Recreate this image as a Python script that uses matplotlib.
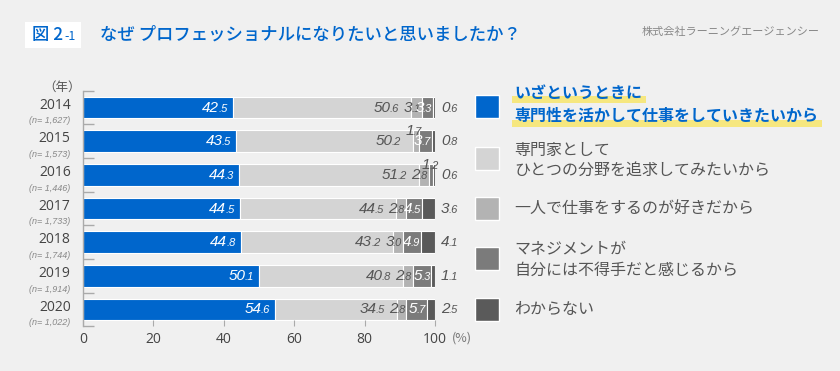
import matplotlib.pyplot as plt
from matplotlib.patches import Rectangle

plt.rcParams['font.family'] = ['Noto Sans CJK JP', 'DejaVu Sans']

years = ['2014', '2015', '2016', '2017', '2018', '2019', '2020']
n_labels = ['(n=1,627)', '(n=1,573)', '(n=1,446)', '(n=1,733)', '(n=1,744)', '(n=1,914)', '(n=1,022)']
expert_use = [42.5, 43.5, 44.3, 44.5, 44.8, 50.1, 54.6]
specialist = [50.6, 50.2, 51.2, 44.5, 43.2, 40.8, 34.5]
alone = [3.1, 1.7, 2.8, 2.8, 3.0, 2.8, 2.8]
management = [3.3, 3.7, 1.2, 4.5, 4.9, 5.3, 5.7]
unknown = [0.6, 0.8, 0.6, 3.6, 4.1, 1.1, 2.5]

legend_labels = [
    'いざというときに\n専門性を活かして仕事をしていきたいから',
    '専門家として\nひとつの分野を追求してみたいから',
    '一人で仕事をするのが好きだから',
    'マネジメントが\n自分には不得手だと感じるから',
    'わからない',
]
colors = ['#0066cc', '#d4d4d4', '#b3b3b3', '#7b7b7b', '#5a5a5a']
bg = '#f0f0f0'
numfont = 'Liberation Sans'

W, H = 840, 371
fig = plt.figure(figsize=(W / 100, H / 100), dpi=100, facecolor=bg)


def fx(px):
    return px / W


def fy(py):
    return 1 - py / H


ax = fig.add_axes([fx(83), fy(326.3), fx(352), (326.3 - 90.7) / H])
ax.set_facecolor(bg)

series = [expert_use, specialist, alone, management, unknown]
ypos = list(range(len(years)))
left = [0] * len(years)
for vals, c in zip(series, colors):
    ax.barh(ypos, vals, left=left, height=0.64, color=c, edgecolor='white', linewidth=0.8)
    left = [a + b for a, b in zip(left, vals)]

ax.set_xlim(0, 100)
ax.set_ylim(6.5, -0.5)
for s in ['top', 'right', 'bottom']:
    ax.spines[s].set_visible(False)
ax.spines['left'].set_color('#aaaaaa')
ax.spines['left'].set_linewidth(1)
ax.set_xticks([0, 20, 40, 60, 80, 100])
ax.tick_params(axis='x', direction='in', length=4, color='#aaaaaa', labelsize=10,
               labelcolor='#444444', pad=4)
ax.set_yticks([])
ax.set_yticks([i - 0.5 for i in range(len(years) + 1)], minor=True)
ax.tick_params(axis='y', which='minor', direction='in', length=8, color='#aaaaaa', width=1)
for lab in ax.get_xticklabels():
    lab.set_family('Open Sans')

fig.canvas.draw()
renderer = fig.canvas.get_renderer()


def value_label(x, y, v, color, ha_end, pad_px, dy=0):
    ip, dp = f'{v:.1f}'.split('.')
    kw = dict(textcoords='offset pixels', va='center', style='italic', color=color,
              family=numfont, annotation_clip=False)
    if ha_end == 'right':
        t2 = ax.annotate('.' + dp, (x, y), xytext=(-pad_px, dy - 1), ha='right',
                         fontsize=8, **kw)
        w = t2.get_window_extent(renderer).width
        ax.annotate(ip, (x, y), xytext=(-pad_px - w + 1, dy), ha='right', fontsize=11, **kw)
    else:
        t1 = ax.annotate(ip, (x, y), xytext=(pad_px, dy), ha='left', fontsize=11, **kw)
        w = t1.get_window_extent(renderer).width
        ax.annotate('.' + dp, (x, y), xytext=(pad_px + w - 1, dy - 1), ha='left',
                    fontsize=8, **kw)


for i in range(len(years)):
    e1 = expert_use[i]
    e2 = e1 + specialist[i]
    e3 = e2 + alone[i]
    e4 = e3 + management[i]
    value_label(e1, i, expert_use[i], 'white', 'right', 5)
    value_label(e2, i, specialist[i], '#555555', 'right', 12)
    if alone[i] < 2:
        value_label(e3 + 1.0, i, alone[i], '#555555', 'right', 0, dy=10)
    else:
        value_label(e3, i, alone[i], '#555555', 'right', 1)
    if management[i] < 2:
        value_label(e4 + 1.5, i, management[i], '#555555', 'right', 0, dy=10)
    else:
        value_label(e4, i, management[i], 'white', 'right', 1)
    value_label(100, i, unknown[i], '#555555', 'left', 6)

    ax.text(-0.035, i - 0.07, years[i], transform=ax.get_yaxis_transform(), ha='right',
            va='center', fontsize=10, color='#444444', family='Open Sans')
    ax.text(-0.035, i + 0.4, n_labels[i].replace('=', '= '), transform=ax.get_yaxis_transform(),
            ha='right', va='center', fontsize=6.5, color='#888888', style='italic',
            family=numfont)

fig.text(fx(62), fy(87), '（年）', ha='center', va='center', fontsize=9, color='#555555')
fig.text(fx(462), fy(338), '(%)', ha='center', va='center', fontsize=9, color='#777777')

# title
fig.patches.append(Rectangle((fx(25), fy(48)), fx(56), (48 - 22) / H, transform=fig.transFigure,
                             facecolor='white', edgecolor='none'))
fig.text(fx(32), fy(35), '図 2', ha='left', va='center', fontsize=12.5, color='#0066cc',
         weight='medium')
fig.text(fx(64), fy(36), '-1', ha='left', va='center', fontsize=9, color='#0066cc')
fig.text(fx(100), fy(35), 'なぜ プロフェッショナルになりたいと思いましたか？', ha='left', va='center',
         fontsize=12.5, color='#0066cc', weight='medium')
fig.text(fx(820), fy(32), '株式会社ラーニングエージェンシー', ha='right', va='center', fontsize=8,
         color='#888888')

# legend
sq_top = [95, 147, 197, 247, 298]
for k, (lab, c) in enumerate(zip(legend_labels, colors)):
    fig.patches.append(Rectangle((fx(475), fy(sq_top[k] + 23)), fx(24), 23 / H,
                                 transform=fig.transFigure, facecolor=c, edgecolor='white',
                                 linewidth=1))
    lines = lab.split('\n')
    if k == 0:
        ycs = [92.5, 116]
    elif len(lines) == 2:
        ycs = [sq_top[k] + 3, sq_top[k] + 23]
    else:
        ycs = [sq_top[k] + 11]
    for line, yc in zip(lines, ycs):
        if k == 0:
            t = fig.text(fx(514), fy(yc), line, ha='left', va='center', fontsize=11.5,
                         color='#0066cc', weight='bold')
            w = t.get_window_extent(renderer).width
            fig.patches.append(Rectangle((fx(512), fy(yc + 11)), fx(w + 6), 7 / H,
                                         transform=fig.transFigure, facecolor='#f6e77f',
                                         edgecolor='none', zorder=0))
        else:
            fig.text(fx(514), fy(yc), line, ha='left', va='center', fontsize=11.5,
                     color='#555555')

fig.savefig('out.png', dpi=100, facecolor=bg)
